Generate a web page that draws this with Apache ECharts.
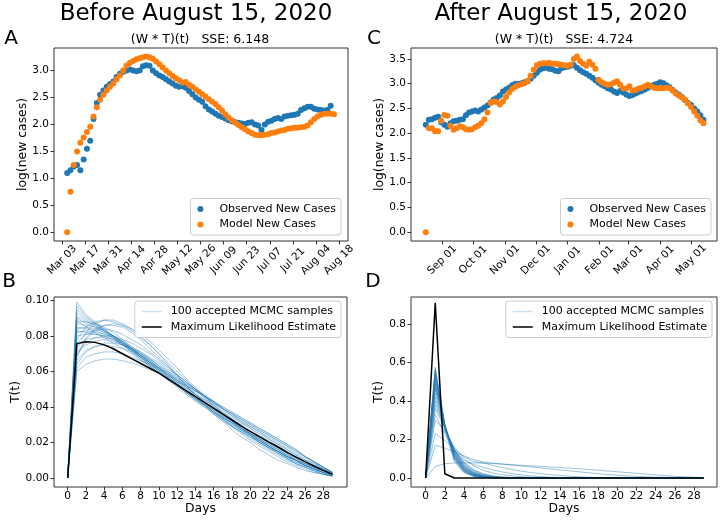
<!DOCTYPE html>
<html><head><meta charset="utf-8">
<script src="https://cdn.jsdelivr.net/npm/echarts@6/dist/echarts.min.js"></script>
<style>html,body{margin:0;padding:0;background:#fff}#c{width:720px;height:522px}</style>
</head><body><div id="c"></div>
<script>
// ---------------- Text ----------------
const titleLeft = 'Before August 15, 2020';
const titleRight = 'After August 15, 2020';
const subLeft = '(W * T)(t)   SSE: 6.148';
const subRight = '(W * T)(t)   SSE: 4.724';
const panelLetters = ['A', 'B', 'C', 'D'];
const seriesNames = ['Observed New Cases', 'Model New Cases', '100 accepted MCMC samples', 'Maximum Likelihood Estimate'];

// ---------------- Panel A (day 0 = Mar 03, 2020) ----------------
const aTickDays = [0, 14, 28, 42, 56, 70, 84, 98, 112, 126, 140, 154, 168];
const aTickLabels = ['Mar 03', 'Mar 17', 'Mar 31', 'Apr 14', 'Apr 28', 'May 12', 'May 26', 'Jun 09', 'Jun 23', 'Jul 07', 'Jul 21', 'Aug 04', 'Aug 18'];
const aYTicks = [0, 0.5, 1.0, 1.5, 2.0, 2.5, 3.0];
const obsAStart = 3, obsAStep = 2;
const obsA = [
  1.10, 1.15, 1.22, 1.25, 1.15, 1.35, 1.55, 1.70, 2.10, 2.40,
  2.55, 2.63, 2.70, 2.75, 2.80, 2.88, 2.94, 2.98, 3.00, 3.02,
  3.00, 2.99, 3.00, 3.08, 3.10, 3.09, 3.00, 2.95, 2.91, 2.88,
  2.84, 2.80, 2.76, 2.72, 2.70, 2.71, 2.68, 2.62, 2.56, 2.50,
  2.46, 2.42, 2.34, 2.28, 2.24, 2.20, 2.16, 2.14, 2.11, 2.08,
  2.06, 2.04, 2.03, 2.02, 2.01, 2.03, 2.04, 2.00, 1.98, 1.90,
  2.00, 2.05, 2.07, 2.10, 2.12, 2.10, 2.15, 2.16, 2.17, 2.18,
  2.20, 2.27, 2.30, 2.33, 2.33, 2.29, 2.28, 2.27, 2.26, 2.27,
  2.35
];
const modelAStart = 3, modelAStep = 2;
const modelA = [
  0.00, 0.75, 1.25, 1.50, 1.66, 1.76, 1.86, 1.96, 2.15, 2.32,
  2.46, 2.55, 2.63, 2.70, 2.76, 2.84, 2.91, 3.00, 3.09, 3.14,
  3.18, 3.21, 3.23, 3.25, 3.26, 3.25, 3.22, 3.17, 3.12, 3.06,
  3.00, 2.95, 2.90, 2.86, 2.82, 2.78, 2.79, 2.74, 2.70, 2.65,
  2.61, 2.56, 2.52, 2.47, 2.42, 2.38, 2.32, 2.26, 2.19, 2.13,
  2.08, 2.03, 1.99, 1.95, 1.91, 1.87, 1.84, 1.81, 1.80, 1.80,
  1.81, 1.82, 1.84, 1.85, 1.87, 1.89, 1.90, 1.92, 1.93, 1.94,
  1.94, 1.95, 1.96, 1.98, 2.04, 2.10, 2.15, 2.18, 2.20, 2.20,
  2.20, 2.19
];

// ---------------- Panel C (day 0 = Sep 01, 2020) ----------------
const cTickDays = [0, 30, 61, 91, 122, 153, 181, 212, 242];
const cTickLabels = ['Sep 01', 'Oct 01', 'Nov 01', 'Dec 01', 'Jan 01', 'Feb 01', 'Mar 01', 'Apr 01', 'May 01'];
const cYTicks = [0, 0.5, 1.0, 1.5, 2.0, 2.5, 3.0, 3.5];
const obsCStart = -16, obsCStep = 3;
const obsC = [
  2.17, 2.27, 2.28, 2.31, 2.33, 2.22, 2.17, 2.13, 2.20, 2.24,
  2.25, 2.27, 2.28, 2.36, 2.42, 2.44, 2.46, 2.44, 2.48, 2.52,
  2.56, 2.62, 2.68, 2.71, 2.76, 2.84, 2.88, 2.92, 2.97, 3.00,
  3.00, 3.01, 3.03, 3.05, 3.10, 3.16, 3.22, 3.28, 3.31, 3.32,
  3.30, 3.29, 3.26, 3.25, 3.31, 3.33, 3.34, 3.36, 3.37, 3.32,
  3.27, 3.23, 3.20, 3.16, 3.12, 3.07, 3.02, 2.98, 2.95, 2.91,
  2.88, 2.84, 2.81, 2.85, 2.82, 2.78, 2.75, 2.77, 2.80, 2.83,
  2.85, 2.88, 2.92, 2.95, 2.98, 3.00, 3.03, 3.01, 2.97, 2.93,
  2.87, 2.82, 2.78, 2.73, 2.67, 2.61, 2.57, 2.50, 2.44, 2.36,
  2.27
];
const modelCStart = -16, modelCStep = 3;
const modelC = [
  0.00, 2.10, 2.10, 2.04, 2.04, 2.25, 2.37, 2.35, 2.15, 2.07,
  2.10, 2.14, 2.12, 2.08, 2.07, 2.08, 2.12, 2.15, 2.20, 2.28,
  2.42, 2.61, 2.64, 2.63, 2.58, 2.64, 2.73, 2.82, 2.89, 2.94,
  2.97, 2.99, 3.01, 3.06, 3.16, 3.28, 3.37, 3.40, 3.41, 3.41,
  3.42, 3.40, 3.40, 3.39, 3.38, 3.37, 3.36, 3.38, 3.50, 3.55,
  3.46, 3.40, 3.36, 3.44, 3.38, 3.30, 3.08, 3.03, 3.00, 2.98,
  2.99, 3.02, 3.05, 2.98, 2.90, 2.90, 2.95, 2.86, 2.87, 2.90,
  2.92, 2.95, 2.98, 2.95, 2.92, 2.91, 2.91, 2.91, 2.92, 2.91,
  2.86, 2.80, 2.76, 2.72, 2.68, 2.60, 2.53, 2.44, 2.35, 2.26,
  2.20
];

// ---------------- Panels B and D (days 0..29) ----------------
const dayTicks = [0, 2, 4, 6, 8, 10, 12, 14, 16, 18, 20, 22, 24, 26, 28];
const bYTicks = [0, 0.02, 0.04, 0.06, 0.08, 0.10];
const dYTicks = [0, 0.2, 0.4, 0.6, 0.8];

const mleB = [
  0, .0757, .0768, .0764, .0750, .0728, .0700, .0672, .0645, .0618,
  .0590, .0557, .0524, .0491, .0458, .0425, .0392, .0359, .0326, .0293,
  .0262, .0232, .0203, .0175, .0145, .0117, .0091, .0066, .0042, .0020
];
const mcmcB = [
  [0, .099, .092, .088, .084, .080, .076, .072, .068, .064, .060, .056, .052, .048, .044, .040, .036, .032, .029, .026, .023, .020, .017, .014, .011, .009, .007, .005, .003, .002],
  [0, .095, .090, .087, .084, .080, .076, .072, .068, .064, .060, .056, .052, .048, .044, .041, .037, .034, .030, .027, .024, .021, .018, .015, .012, .010, .008, .006, .004, .002],
  [0, .090, .087, .085, .082, .079, .075, .071, .067, .063, .059, .055, .052, .048, .045, .041, .038, .034, .031, .028, .025, .022, .019, .016, .013, .011, .008, .006, .004, .002],
  [0, .088, .088, .087, .085, .082, .078, .074, .070, .066, .062, .057, .053, .049, .045, .041, .037, .033, .029, .026, .022, .019, .016, .013, .010, .008, .006, .004, .002, .001],
  [0, .072, .082, .087, .089, .089, .087, .084, .080, .075, .070, .064, .058, .052, .046, .041, .036, .032, .027, .023, .020, .016, .013, .010, .008, .006, .004, .003, .002, .001],
  [0, .068, .078, .083, .086, .086, .085, .082, .078, .073, .068, .063, .057, .052, .047, .042, .037, .033, .029, .025, .021, .018, .015, .012, .009, .007, .005, .003, .002, .001],
  [0, .085, .084, .083, .081, .079, .076, .073, .069, .066, .062, .058, .054, .050, .047, .043, .039, .036, .032, .029, .026, .023, .020, .017, .014, .012, .009, .007, .005, .003],
  [0, .080, .081, .081, .080, .078, .075, .072, .069, .065, .062, .058, .055, .051, .048, .044, .041, .037, .034, .031, .028, .025, .022, .019, .016, .013, .010, .008, .005, .003],
  [0, .062, .068, .070, .071, .071, .070, .068, .066, .064, .061, .058, .055, .052, .049, .046, .043, .040, .037, .034, .031, .028, .025, .022, .019, .016, .012, .009, .006, .003],
  [0, .066, .072, .074, .075, .074, .073, .071, .068, .065, .062, .059, .056, .052, .049, .046, .042, .039, .036, .033, .030, .027, .024, .021, .018, .015, .012, .009, .006, .003],
  [0, .075, .078, .079, .079, .078, .076, .073, .070, .067, .063, .060, .056, .053, .049, .046, .042, .039, .035, .032, .029, .026, .023, .020, .017, .014, .011, .008, .006, .003],
  [0, .078, .085, .088, .089, .088, .086, .083, .079, .075, .070, .065, .060, .055, .050, .045, .040, .036, .032, .028, .024, .020, .017, .014, .011, .008, .006, .004, .002, .001],
  [0, .093, .089, .086, .083, .080, .077, .073, .069, .065, .061, .058, .054, .050, .046, .042, .039, .035, .032, .028, .025, .022, .019, .016, .013, .010, .008, .006, .004, .002],
  [0, .060, .064, .066, .067, .067, .066, .065, .063, .061, .059, .057, .054, .052, .049, .046, .043, .040, .037, .034, .031, .028, .025, .022, .019, .016, .012, .009, .006, .003],
  [0, .082, .083, .082, .081, .079, .077, .074, .071, .067, .063, .059, .055, .051, .047, .043, .039, .035, .031, .028, .025, .022, .019, .016, .013, .010, .008, .006, .004, .002],
  [0, .070, .075, .077, .078, .077, .075, .073, .070, .067, .064, .060, .057, .053, .050, .046, .043, .039, .036, .033, .030, .027, .024, .021, .018, .015, .012, .009, .006, .003],
  [0, .087, .086, .085, .083, .080, .077, .073, .069, .065, .061, .057, .053, .049, .045, .041, .038, .034, .031, .027, .024, .021, .018, .015, .012, .010, .007, .005, .003, .002],
  [0, .064, .071, .074, .076, .076, .075, .073, .071, .068, .065, .061, .058, .054, .050, .047, .043, .039, .036, .032, .029, .026, .022, .019, .016, .013, .010, .007, .005, .002],
  [0, .091, .088, .086, .083, .080, .076, .072, .068, .064, .060, .056, .052, .048, .044, .041, .037, .034, .030, .027, .024, .021, .018, .015, .012, .010, .007, .005, .003, .002],
  [0, .084, .085, .084, .082, .080, .077, .073, .069, .065, .061, .057, .053, .049, .045, .042, .038, .034, .031, .028, .025, .021, .018, .015, .012, .010, .007, .005, .003, .001],
  [0, .076, .081, .083, .084, .083, .081, .078, .075, .071, .067, .063, .058, .054, .050, .045, .041, .037, .033, .029, .025, .022, .018, .015, .012, .009, .007, .005, .003, .001],
  [0, .089, .085, .082, .079, .076, .073, .070, .066, .063, .059, .056, .052, .049, .045, .042, .039, .035, .032, .029, .026, .023, .020, .017, .014, .012, .009, .007, .005, .002],
  [0, .071, .076, .079, .080, .080, .078, .076, .073, .070, .066, .062, .058, .054, .050, .046, .042, .038, .035, .031, .028, .024, .021, .018, .015, .012, .009, .006, .004, .002],
  [0, .083, .082, .081, .080, .078, .075, .072, .069, .066, .062, .059, .055, .051, .047, .044, .040, .036, .033, .030, .026, .023, .020, .017, .014, .011, .009, .006, .004, .002],
  [0, .097, .091, .087, .083, .079, .075, .071, .067, .063, .059, .055, .051, .047, .043, .040, .036, .033, .029, .026, .023, .020, .017, .015, .012, .010, .007, .005, .004, .002],
  [0, .069, .079, .084, .086, .087, .086, .084, .081, .077, .072, .067, .062, .056, .051, .046, .041, .036, .032, .028, .024, .020, .017, .014, .011, .008, .006, .004, .003, .001]
];

const mleD = [
  0, .910, .022, 0, 0, 0, 0, 0, 0, 0,
  0, 0, 0, 0, 0, 0, 0, 0, 0, 0,
  0, 0, 0, 0, 0, 0, 0, 0, 0, 0
];
const mcmcD = [
  [0, .575, .280, .100, .034, .011, .004, .001, 0, 0, 0, 0, 0, 0, 0, 0, 0, 0, 0, 0, 0, 0, 0, 0, 0, 0, 0, 0, 0, 0],
  [0, .555, .275, .108, .040, .014, .005, .002, .001, 0, 0, 0, 0, 0, 0, 0, 0, 0, 0, 0, 0, 0, 0, 0, 0, 0, 0, 0, 0, 0],
  [0, .530, .270, .115, .045, .017, .006, .002, .001, 0, 0, 0, 0, 0, 0, 0, 0, 0, 0, 0, 0, 0, 0, 0, 0, 0, 0, 0, 0, 0],
  [0, .500, .265, .120, .050, .020, .008, .003, .001, 0, 0, 0, 0, 0, 0, 0, 0, 0, 0, 0, 0, 0, 0, 0, 0, 0, 0, 0, 0, 0],
  [0, .470, .265, .130, .057, .024, .010, .004, .002, .001, 0, 0, 0, 0, 0, 0, 0, 0, 0, 0, 0, 0, 0, 0, 0, 0, 0, 0, 0, 0],
  [0, .440, .265, .138, .064, .028, .012, .005, .002, .001, 0, 0, 0, 0, 0, 0, 0, 0, 0, 0, 0, 0, 0, 0, 0, 0, 0, 0, 0, 0],
  [0, .400, .260, .145, .073, .035, .016, .007, .003, .001, 0, 0, 0, 0, 0, 0, 0, 0, 0, 0, 0, 0, 0, 0, 0, 0, 0, 0, 0, 0],
  [0, .360, .255, .150, .082, .043, .022, .011, .005, .002, .001, 0, 0, 0, 0, 0, 0, 0, 0, 0, 0, 0, 0, 0, 0, 0, 0, 0, 0, 0],
  [0, .545, .265, .092, .030, .010, .003, .001, 0, 0, 0, 0, 0, 0, 0, 0, 0, 0, 0, 0, 0, 0, 0, 0, 0, 0, 0, 0, 0, 0],
  [0, .560, .250, .085, .027, .008, .002, 0, 0, 0, 0, 0, 0, 0, 0, 0, 0, 0, 0, 0, 0, 0, 0, 0, 0, 0, 0, 0, 0, 0],
  [0, .300, .245, .160, .100, .063, .040, .026, .017, .011, .007, .004, .002, .001, 0, 0, 0, 0, 0, 0, 0, 0, 0, 0, 0, 0, 0, 0, 0, 0],
  [0, .230, .195, .150, .110, .085, .078, .065, .054, .044, .035, .028, .022, .017, .013, .009, .006, .004, .002, .001, 0, 0, 0, 0, 0, 0, 0, 0, 0, 0],
  [0, .170, .155, .135, .115, .095, .083, .077, .072, .067, .062, .057, .052, .047, .042, .037, .032, .027, .022, .018, .014, .011, .008, .006, .004, .003, .002, .001, 0, 0],
  [0, .060, .074, .078, .078, .078, .077, .075, .072, .069, .066, .063, .060, .057, .054, .051, .048, .044, .040, .036, .032, .028, .024, .020, .016, .012, .009, .006, .004, .002],
  [0, .330, .230, .140, .092, .070, .055, .042, .031, .023, .016, .011, .007, .004, .002, .001, 0, 0, 0, 0, 0, 0, 0, 0, 0, 0, 0, 0, 0, 0],
  [0, .490, .270, .125, .052, .021, .008, .003, .001, 0, 0, 0, 0, 0, 0, 0, 0, 0, 0, 0, 0, 0, 0, 0, 0, 0, 0, 0, 0, 0],
  [0, .420, .260, .140, .068, .031, .013, .006, .002, .001, 0, 0, 0, 0, 0, 0, 0, 0, 0, 0, 0, 0, 0, 0, 0, 0, 0, 0, 0, 0],
  [0, .520, .270, .110, .042, .015, .005, .002, 0, 0, 0, 0, 0, 0, 0, 0, 0, 0, 0, 0, 0, 0, 0, 0, 0, 0, 0, 0, 0, 0],
  [0, .565, .275, .100, .036, .012, .004, .001, 0, 0, 0, 0, 0, 0, 0, 0, 0, 0, 0, 0, 0, 0, 0, 0, 0, 0, 0, 0, 0, 0],
  [0, .510, .270, .117, .047, .018, .007, .002, .001, 0, 0, 0, 0, 0, 0, 0, 0, 0, 0, 0, 0, 0, 0, 0, 0, 0, 0, 0, 0, 0],
  [0, .480, .265, .128, .055, .023, .009, .003, .001, 0, 0, 0, 0, 0, 0, 0, 0, 0, 0, 0, 0, 0, 0, 0, 0, 0, 0, 0, 0, 0],
  [0, .460, .270, .132, .060, .025, .010, .004, .001, 0, 0, 0, 0, 0, 0, 0, 0, 0, 0, 0, 0, 0, 0, 0, 0, 0, 0, 0, 0, 0],
  [0, .540, .270, .105, .038, .013, .004, .001, 0, 0, 0, 0, 0, 0, 0, 0, 0, 0, 0, 0, 0, 0, 0, 0, 0, 0, 0, 0, 0, 0],
  [0, .380, .260, .145, .078, .040, .020, .009, .004, .002, .001, 0, 0, 0, 0, 0, 0, 0, 0, 0, 0, 0, 0, 0, 0, 0, 0, 0, 0, 0]
];

// ---------------- Styling / building ----------------
const FONT = 'DejaVu Sans';
const BLUE = '#1f77b4', ORANGE = '#ff7f0e', FRAME = '#333333', TXT = '#000000';
const TICK_FS = 10.5, NAME_FS = 12.4, LEG_FS = 11;

const grids = [
  { left: 54, top: 48, width: 294, height: 193 },   // A
  { left: 54, top: 297, width: 293, height: 190 },  // B
  { left: 411, top: 48, width: 306, height: 193 },  // C
  { left: 411, top: 297, width: 306, height: 190 }  // D
].map(g => Object.assign(g, { show: true, borderColor: FRAME, borderWidth: 1, backgroundColor: 'transparent', containLabel: false, outerBoundsMode: 'none' }));

function axisBase(gridIndex, min, max, ticks, fmt) {
  return {
    gridIndex, type: 'value', min, max, scale: true,
    axisLine: { show: false, onZero: false },
    splitLine: { show: false },
    axisTick: { show: true, customValues: ticks, length: 3.5, lineStyle: { color: FRAME, width: 1 } },
    axisLabel: { customValues: ticks, formatter: fmt, fontSize: TICK_FS, fontFamily: FONT, color: TXT, margin: 5 }
  };
}

function dateAxis(gridIndex, min, max, ticks, labels) {
  const ax = axisBase(gridIndex, min, max, ticks, v => labels[ticks.indexOf(v)]);
  Object.assign(ax.axisLabel, { rotate: 45, align: 'center', verticalAlign: 'middle', margin: 19 });
  return ax;
}
function daysAxis(gridIndex, min, max) {
  const ax = axisBase(gridIndex, min, max, dayTicks, v => String(v));
  ax.axisLabel.margin = 3.5;
  return Object.assign(ax, { name: 'Days', nameLocation: 'middle', nameGap: 15, nameTextStyle: { fontSize: NAME_FS, fontFamily: FONT, color: TXT } });
}

const xAxes = [
  dateAxis(0, -5, 173.5, aTickDays, aTickLabels),
  daysAxis(1, -1.5, 30.6),
  dateAxis(2, -30.4, 267.2, cTickDays, cTickLabels),
  daysAxis(3, -1.53, 30.4)
];

function yName(ax, name, gap) {
  return Object.assign(ax, { name, nameLocation: 'middle', nameGap: gap, nameTextStyle: { fontSize: NAME_FS, fontFamily: FONT, color: TXT } });
}
const yAxes = [
  yName(axisBase(0, -0.163, 3.42, aYTicks, v => v.toFixed(1)), 'log(new cases)', 25),
  yName(axisBase(1, -0.0052, 0.102, bYTicks, v => v.toFixed(2)), 'T(t)', 29),
  yName(axisBase(2, -0.176, 3.72, cYTicks, v => v.toFixed(1)), 'log(new cases)', 24),
  yName(axisBase(3, -0.047, 0.94, dYTicks, v => v.toFixed(1)), 'T(t)', 26)
];

const series = [];
function scatter(name, idx, arr, start, step, color) {
  series.push({
    type: 'scatter', name, xAxisIndex: idx, yAxisIndex: idx, silent: true,
    data: arr.map((v, i) => [start + i * step, v]),
    symbol: 'circle', symbolSize: 6, itemStyle: { color, opacity: 1 }
  });
}
scatter(seriesNames[0], 0, obsA, obsAStart, obsAStep, BLUE);
scatter(seriesNames[1], 0, modelA, modelAStart, modelAStep, ORANGE);
scatter(seriesNames[0], 2, obsC, obsCStart, obsCStep, BLUE);
scatter(seriesNames[1], 2, modelC, modelCStart, modelCStep, ORANGE);

function curves(idx, samples, mle, op) {
  samples.forEach(c => series.push({
    type: 'line', name: seriesNames[2], xAxisIndex: idx, yAxisIndex: idx, silent: true,
    data: c.map((v, i) => [i, v]), symbol: 'none', showSymbol: false,
    lineStyle: { color: BLUE, width: 1, opacity: op }, itemStyle: { color: BLUE }, z: 2
  }));
  series.push({
    type: 'line', name: seriesNames[3], xAxisIndex: idx, yAxisIndex: idx, silent: true,
    data: mle.map((v, i) => [i, v]), symbol: 'none', showSymbol: false,
    lineStyle: { color: '#000', width: 1.5 }, itemStyle: { color: '#000' }, z: 3
  });
}
curves(1, mcmcB, mleB, 0.4);
curves(3, mcmcD, mleD, 0.45);

const legendBase = {
  orient: 'vertical', selectedMode: false, itemWidth: 20, itemGap: 4.5,
  borderColor: '#cccccc', borderWidth: 1, borderRadius: 3, backgroundColor: 'rgba(255,255,255,0.8)',
  padding: [5, 5, 5, 7],
  textStyle: { fontSize: LEG_FS, fontFamily: FONT, color: TXT, lineHeight: 11, padding: [0, 0, 0, 4] }
};
const dotLegend = pos => Object.assign({}, legendBase, pos, {
  itemHeight: 6,
  data: [
    { name: seriesNames[0], icon: 'circle', itemStyle: { color: BLUE } },
    { name: seriesNames[1], icon: 'circle', itemStyle: { color: ORANGE } }
  ]
});
const lineLegend = pos => Object.assign({}, legendBase, pos, {
  itemHeight: 1.5,
  data: [
    { name: seriesNames[2], icon: 'rect', itemStyle: { color: 'rgba(31,119,180,0.22)' } },
    { name: seriesNames[3], icon: 'rect', itemStyle: { color: '#000000' } }
  ]
});

function txt(x, y, text, size) {
  return { type: 'text', x, y, silent: true, style: { text, fontSize: size, fontFamily: FONT, fill: TXT, align: 'center', verticalAlign: 'middle' } };
}

const option = {
  animation: false,
  backgroundColor: '#ffffff',
  grid: grids,
  xAxis: xAxes,
  yAxis: yAxes,
  legend: [
    dotLegend({ right: 379, bottom: 287 }),
    lineLegend({ right: 379, top: 301 }),
    dotLegend({ right: 9, bottom: 287 }),
    lineLegend({ right: 8, top: 301 })
  ],
  graphic: [
    txt(196, 14, titleLeft, 23),
    txt(561, 14, titleRight, 23),
    txt(200, 39.5, subLeft, 12.5),
    txt(564, 39.5, subRight, 12.5),
    txt(11, 39, panelLetters[0], 20),
    txt(9, 282, panelLetters[1], 20),
    txt(374, 39, panelLetters[2], 20),
    txt(373, 282, panelLetters[3], 20)
  ],
  series
};

const chart = echarts.init(document.getElementById('c'), null, { renderer: 'canvas' });
chart.setOption(option);
</script></body></html>
